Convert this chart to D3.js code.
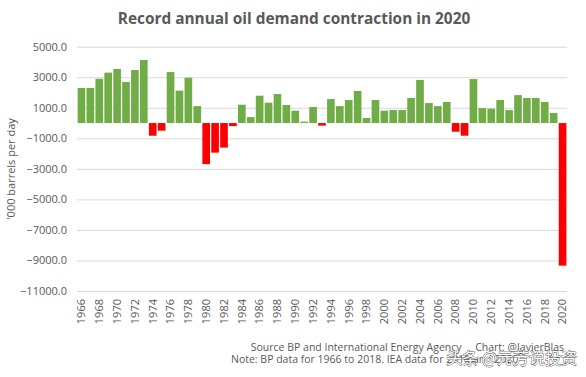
<!DOCTYPE html>
<html>
<head>
	<meta charset="utf-8">
	<title>Record annual oil demand contraction in 2020</title>
	<script src="https://d3js.org/d3.v7.min.js"></script>
	<style>
		body { margin: 0; background: #fff; }
	</style>
</head>
<body>
	<div class="chart"></div>

	<script type="text/javascript">

		// data: annual change in oil demand, '000 barrels per day
		var years = d3.range(1966, 2021)
		var demandChange = [
			2300, 2300, 2900, 3300, 3540, 2690, 3470, 4130, -830, -500,
			3340, 2120, 2970, 1110, -2690, -1940, -1610, -200, 1200, 390,
			1790, 1330, 1900, 1180, 810, 90, 1050, -170, 1570, 1110,
			1510, 2100, 330, 1510, 810, 850, 850, 1640, 2820, 1310,
			1110, 1380, -570, -830, 2880, 980, 940, 1510, 850, 1830,
			1640, 1640, 1380, 660, -9340
		]
		var yTicks = [5000, 3000, 1000, -1000, -3000, -5000, -7000, -9000, -11000]

		var width = 586
		var height = 377
		var textColor = '#595959'
		var font = '"Open Sans", "Liberation Sans", sans-serif'

		var svg = d3
			.select('.chart')
			.append('svg')
			.attr('width', width)
			.attr('height', height)
			.style('font-family', font)

		// 比例尺
		var xScale = d3.scaleBand().domain(years).range([77, 567]).paddingInner(0.14).paddingOuter(0.07)
		var yScale = d3.scaleLinear().domain([-11000, 5000]).range([291, 46.7])

		// 标题
		svg.append('text')
			.attr('x', 294)
			.attr('y', 24)
			.attr('text-anchor', 'middle')
			.style('font-size', '15.4px')
			.style('font-weight', 'bold')
			.style('fill', textColor)
			.text('Record annual oil demand contraction in 2020')

		// y轴 + 网格线
		var yAxis = d3.axisLeft(yScale)
			.tickValues(yTicks)
			.tickSize(-(567 - 77))
			.tickPadding(10)
			.tickFormat(d => d3.format('.1f')(d))
		var yg = svg.append('g')
			.attr('transform', 'translate(77, 0)')
			.call(yAxis)
		yg.select('.domain').remove()
		yg.selectAll('line').style('stroke', '#d9d9d9')
		yg.selectAll('text')
			.style('font-family', font)
			.style('font-size', '11px')
			.style('fill', textColor)

		svg.append('text')
			.attr('transform', 'translate(15, 169) rotate(-90)')
			.attr('text-anchor', 'middle')
			.style('font-size', '11px')
			.style('fill', textColor)
			.text("'000 barrels per day")

		// 柱子
		svg.append('g')
			.selectAll('rect')
			.data(years)
			.enter()
			.append('rect')
			.attr('x', d => xScale(d))
			.attr('width', xScale.bandwidth())
			.attr('y', (d, i) => yScale(Math.max(0, demandChange[i])))
			.attr('height', (d, i) => Math.abs(yScale(demandChange[i]) - yScale(0)))
			.attr('fill', (d, i) => demandChange[i] < 0 ? '#ff0000' : '#70ad47')

		// x轴标签
		var xg = svg.append('g')
			.attr('transform', 'translate(0, 291)')
			.call(d3.axisBottom(xScale).tickValues(years.filter(d => d % 2 === 0)).tickSize(0))
		xg.select('.domain').remove()
		xg.selectAll('text')
			.attr('transform', 'rotate(-90)')
			.attr('text-anchor', 'end')
			.attr('x', -8)
			.attr('y', 0)
			.attr('dy', '0.35em')
			.style('font-family', font)
			.style('font-size', '11px')
			.style('fill', textColor)

		// 注释
		svg.append('text')
			.attr('x', 564)
			.attr('y', 351)
			.attr('text-anchor', 'end')
			.style('font-size', '10.5px')
			.style('fill', textColor)
			.attr('xml:space', 'preserve')
			.text('Source BP and International Energy Agency     Chart: @JavierBlas')
		svg.append('text')
			.attr('x', 231)
			.attr('y', 363)
			.style('font-size', '10.5px')
			.style('fill', textColor)
			.text('Note: BP data for 1966 to 2018. IEA data for 2019 and 2020')

		// 水印
		svg.append('text')
			.attr('x', 577)
			.attr('y', 364)
			.attr('text-anchor', 'end')
			.style('font-family', '"Noto Sans CJK SC", sans-serif')
			.style('font-size', '16px')
			.style('fill', '#fff')
			.style('stroke', '#555')
			.style('stroke-width', '0.9px')
			.style('paint-order', 'stroke')
			.text('头条 @元芳说投资')

	</script>
</body>
</html>
